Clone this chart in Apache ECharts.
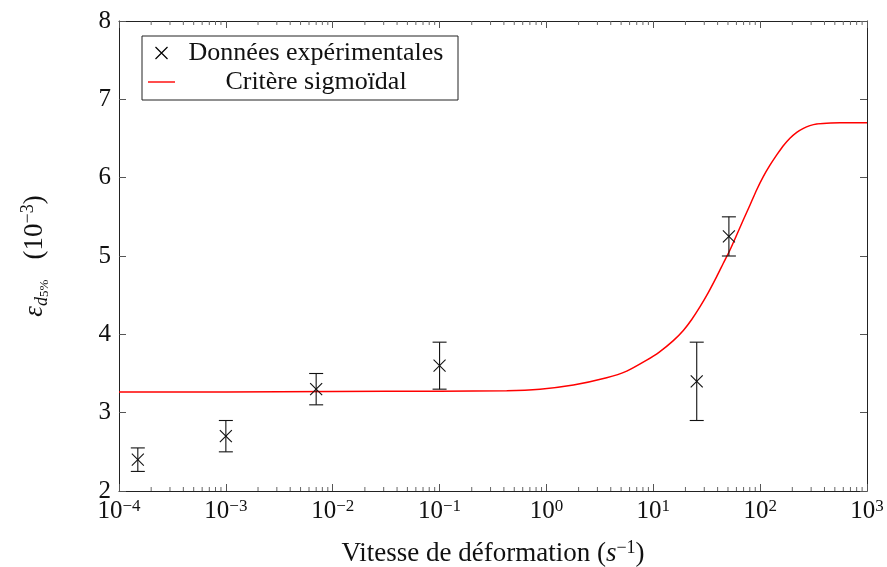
<!DOCTYPE html>
<html><head><meta charset="utf-8">
<script src="https://cdn.jsdelivr.net/npm/echarts@6/dist/echarts.min.js"></script>
<style>html,body{margin:0;padding:0;background:#fff}#c{width:887px;height:567px}</style>
</head><body><div id="c"></div>
<script>
// Experimental data: strain rate (s^-1), value, error low, error high
const expX  = [1.5e-4, 1e-3, 7e-3, 0.1, 25.5, 51];
const expY  = [2.40, 2.70, 3.30, 3.60, 3.40, 5.25];
const expLo = [2.25, 2.50, 3.10, 3.30, 2.90, 5.00];
const expHi = [2.55, 2.90, 3.50, 3.90, 3.90, 5.50];
// Sigmoid criterion curve
const curveX = [1e-4, 1e-3, 1e-2, 0.1, 0.425, 0.871, 1.79, 3.66, 5.64, 8.67, 11.3, 15.4, 19.1, 22.9, 27.4, 32.7, 39.2, 45.2, 52.2, 60.3, 69.5, 80.4, 92.7, 107, 124, 143, 164, 190, 220, 254, 292, 338, 419, 558, 1000];
const curveY = [3.265, 3.265, 3.27, 3.275, 3.28, 3.30, 3.353, 3.445, 3.53, 3.67, 3.77, 3.92, 4.05, 4.19, 4.353, 4.532, 4.736, 4.907, 5.077, 5.268, 5.460, 5.651, 5.843, 6.013, 6.162, 6.290, 6.404, 6.503, 6.579, 6.630, 6.664, 6.685, 6.694, 6.700, 6.700];
// Tick labels
const xTickExp = ['−4', '−3', '−2', '−1', '0', '1', '2', '3'];
const yTicks = ['2', '3', '4', '5', '6', '7', '8'];

const FONT = 'Liberation Serif';
const chart = echarts.init(document.getElementById('c'));

const minorVals = [];
for (let d = -4; d < 3; d++) for (let m = 2; m <= 9; m++) minorVals.push([m * Math.pow(10, d)]);

const expData = expX.map((x, i) => [x, expY[i], expLo[i], expHi[i]]);
const curveData = curveX.map((x, i) => [x, curveY[i]]);

const xAxisBase = {
  type: 'log', logBase: 10, min: 1e-4, max: 1e3,
  axisLine: {lineStyle: {color: '#222', width: 1}},
  axisTick: {inside: true, length: 7, lineStyle: {color: '#555'}},
  splitLine: {show: false}
};
const yAxisBase = {
  type: 'value', min: 2, max: 8, interval: 1,
  axisLine: {show: true, lineStyle: {color: '#222', width: 1}},
  axisTick: {show: true, inside: true, length: 7, lineStyle: {color: '#555'}},
  splitLine: {show: false}
};

chart.setOption({
  animation: false,
  backgroundColor: '#fff',
  grid: {left: 119, right: 20, top: 21, bottom: 76, containLabel: false, outerBoundsMode: 'none'},
  legend: {
    left: 142, top: 36, orient: 'vertical',
    borderColor: '#222', borderWidth: 1, padding: [4, 6, 5, 6],
    itemGap: 3, itemWidth: 27, itemHeight: 12, itemTextGap: 6,
    formatter: '{c|{name}}',
    textStyle: {rich: {c: {fontFamily: FONT, fontSize: 26, lineHeight: 27, color: '#111', width: 272, align: 'center'}}},
    data: [
      {name: 'Données expérimentales', icon: 'path://M0,0L10,10M10,0L0,10',
       itemStyle: {color: 'none', borderColor: '#000', borderWidth: 1.2}},
      {name: 'Critère sigmoïdal', icon: 'path://M0,0L27,0L27,1.4L0,1.4Z',
       itemStyle: {color: '#ff0000', borderWidth: 0}}
    ]
  },
  xAxis: [
    Object.assign({}, xAxisBase, {
      position: 'bottom',
      name: '{n|Vitesse de déformation (}{i|s}{s|−1}{n|)}',
      nameLocation: 'middle', nameGap: 48,
      nameTextStyle: {rich: {
        n: {fontFamily: FONT, fontSize: 27, color: '#111'},
        i: {fontFamily: FONT, fontSize: 27, fontStyle: 'italic', color: '#111'},
        s: {fontFamily: FONT, fontSize: 18, color: '#111', verticalAlign: 'top', padding: [0, 0, 11, 0]}
      }},
      axisLabel: {
        margin: 7,
        formatter: v => '{b|10}{s|' + xTickExp[Math.round(Math.log10(v)) + 4] + '}',
        rich: {
          b: {fontFamily: FONT, fontSize: 25, color: '#111'},
          s: {fontFamily: FONT, fontSize: 17, color: '#111', verticalAlign: 'top', padding: [0, 0, 10, 0]}
        }
      }
    }),
    Object.assign({}, xAxisBase, {position: 'top', axisLabel: {show: false}})
  ],
  yAxis: [
    Object.assign({}, yAxisBase, {
      position: 'left',
      name: '{e|ε}{d|d}{p|5%}{n|   (10}{s|−3}{n|)}',
      nameLocation: 'middle', nameGap: 68, nameRotate: 90,
      nameTextStyle: {rich: {
        e: {fontFamily: FONT, fontSize: 27, fontStyle: 'italic', color: '#111'},
        d: {fontFamily: FONT, fontSize: 18, fontStyle: 'italic', color: '#111', verticalAlign: 'bottom', padding: [12, 0, 0, 0]},
        p: {fontFamily: FONT, fontSize: 13, color: '#111', verticalAlign: 'bottom', padding: [19, 0, 0, 0]},
        n: {fontFamily: FONT, fontSize: 27, color: '#111'},
        s: {fontFamily: FONT, fontSize: 18, color: '#111', verticalAlign: 'top', padding: [0, 0, 11, 0]}
      }},
      axisLabel: {margin: 8, fontFamily: FONT, fontSize: 25, color: '#111',
        formatter: v => yTicks[Math.round(v) - 2]}
    }),
    Object.assign({}, yAxisBase, {position: 'right', axisLabel: {show: false}})
  ],
  series: [
    {
      name: 'minor', type: 'custom', silent: true, data: minorVals,
      renderItem: (params, api) => {
        const b = api.coord([api.value(0), 2]);
        const t = api.coord([api.value(0), 8]);
        const st = {stroke: '#666', lineWidth: 1};
        return {type: 'group', children: [
          {type: 'line', shape: {x1: b[0], y1: b[1], x2: b[0], y2: b[1] - 4}, style: st},
          {type: 'line', shape: {x1: t[0], y1: t[1], x2: t[0], y2: t[1] + 4}, style: st}
        ]};
      },
      z: 1
    },
    {
      name: 'Critère sigmoïdal', type: 'line', data: curveData,
      showSymbol: false, symbol: 'none', smooth: 0.2,
      lineStyle: {color: '#ff0000', width: 1.5}, itemStyle: {color: '#ff0000'}, z: 2
    },
    {
      name: 'Données expérimentales', type: 'custom', data: expData,
      itemStyle: {color: '#000'},
      renderItem: (params, api) => {
        const p = api.coord([api.value(0), api.value(1)]);
        const lo = api.coord([api.value(0), api.value(2)]);
        const hi = api.coord([api.value(0), api.value(3)]);
        const st = {stroke: '#111', lineWidth: 1.1};
        const c = 7, m = 6;
        return {type: 'group', children: [
          {type: 'line', shape: {x1: p[0], y1: lo[1], x2: p[0], y2: hi[1]}, style: st},
          {type: 'line', shape: {x1: p[0] - c, y1: lo[1], x2: p[0] + c, y2: lo[1]}, style: st},
          {type: 'line', shape: {x1: p[0] - c, y1: hi[1], x2: p[0] + c, y2: hi[1]}, style: st},
          {type: 'line', shape: {x1: p[0] - m, y1: p[1] - m, x2: p[0] + m, y2: p[1] + m}, style: st},
          {type: 'line', shape: {x1: p[0] - m, y1: p[1] + m, x2: p[0] + m, y2: p[1] - m}, style: st}
        ]};
      },
      z: 3
    }
  ]
});
</script></body></html>
